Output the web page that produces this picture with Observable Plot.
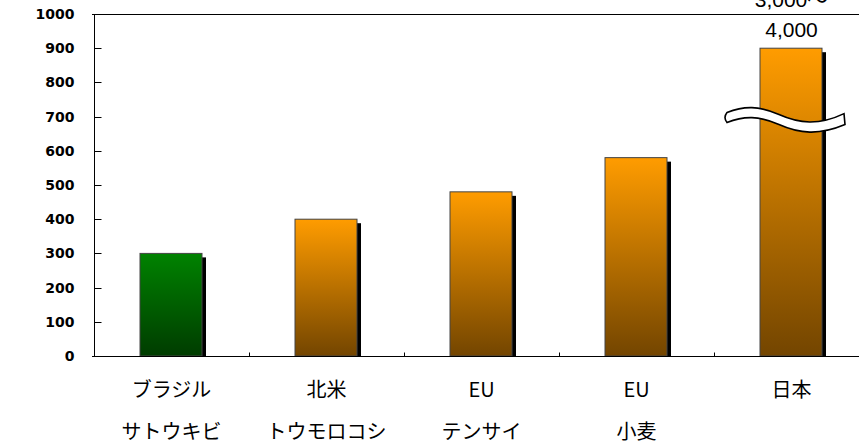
<!DOCTYPE html>
<html>
<head>
<meta charset="utf-8">
<script src="https://cdn.jsdelivr.net/npm/d3@7"></script>
<script src="https://cdn.jsdelivr.net/npm/@observablehq/plot@0.6"></script>
<style>
  html, body { margin: 0; padding: 0; background: #fff; }
  svg { display: block; }
</style>
</head>
<body>
<div id="chart"></div>
<script>
// ---- data ----
const labelTop = ["ブラジル", "北米", "EU", "EU", "日本"];
const labelBottom = ["サトウキビ", "トウモロコシ", "テンサイ", "小麦", ""];
const values = [300, 400, 480, 580, 900];
const barKind = ["green", "orange", "orange", "orange", "orange"];
const japanLabel = ["3,000～", "4,000"];
const yTicks = [0, 100, 200, 300, 400, 500, 600, 700, 800, 900, 1000];
const breakValue = 700;

const keys = labelTop.map((t, i) => t + "/" + labelBottom[i]);
const rows = keys.map((k, i) => ({key: k, top: labelTop[i], bottom: labelBottom[i], value: values[i], kind: barKind[i]}));
const jp = rows[rows.length - 1];

const W = 859, H = 445;
const jpFont = "'Noto Sans CJK JP', 'Liberation Sans', sans-serif";
const numFont = "'Liberation Sans', 'Noto Sans CJK JP', Arial, sans-serif";
const axFont = "'DejaVu Sans', sans-serif";

const chart = Plot.plot({
  width: W,
  height: H,
  marginTop: 14,
  marginBottom: 89,
  marginLeft: 92,
  marginRight: 0,
  style: {background: "#fff", overflow: "visible"},
  x: {domain: keys, range: [92, 870], paddingInner: 0.6, paddingOuter: 0.3, axis: null},
  y: {domain: [0, 1000], axis: null},
  marks: [
    // shadows
    Plot.barY(rows, {x: "key", y: "value", fill: "#000", dx: 4, insetTop: 4}),
    // bars
    Plot.barY(rows.filter(d => d.kind === "green"), {x: "key", y: "value", fill: "url(#gradGreen)", stroke: "#444", strokeWidth: 1}),
    Plot.barY(rows.filter(d => d.kind === "orange"), {x: "key", y: "value", fill: "url(#gradOrange)", stroke: "#444", strokeWidth: 1}),
    // frame lines
    Plot.ruleY([0], {stroke: "#000", strokeWidth: 1}),
    Plot.ruleY([1000], {stroke: "#000", strokeWidth: 1}),
    // y labels
    Plot.text(yTicks, {y: d => d, text: d => String(d), frameAnchor: "left", dx: -18, textAnchor: "end",
      fontSize: 14, fontWeight: "bold", fontFamily: axFont, fill: "#000", style: "letter-spacing:1.8px"}),
    // x labels
    Plot.text(rows, {x: "key", text: "top", frameAnchor: "bottom", dy: 40, fontSize: 20, fontFamily: jpFont, fill: "#000"}),
    Plot.text(rows, {x: "key", text: "bottom", frameAnchor: "bottom", dy: 82, fontSize: 20, fontFamily: jpFont, fill: "#000"}),
    // Japan value label
    Plot.text([jp], {x: "key", y: "value", text: () => japanLabel[0], dy: -48, fontSize: 21, fontFamily: numFont, fill: "#000"}),
    Plot.text([jp], {x: "key", y: "value", text: () => japanLabel[1], dy: -18, fontSize: 21, fontFamily: numFont, fill: "#000"})
  ]
});

document.getElementById("chart").appendChild(chart);

// ---- post-processing with the plot's own scales ----
const svg = d3.select(chart);
const xs = chart.scale("x");
const ys = chart.scale("y");
const bw = xs.bandwidth;
const step = xs.step;

const defs = svg.insert("defs", ":first-child");
const gO = defs.append("linearGradient").attr("id", "gradOrange").attr("x1", 0).attr("y1", 0).attr("x2", 0).attr("y2", 1);
gO.append("stop").attr("offset", "0%").attr("stop-color", "#ff9c00");
gO.append("stop").attr("offset", "100%").attr("stop-color", "#734500");
const gG = defs.append("linearGradient").attr("id", "gradGreen").attr("x1", 0).attr("y1", 0).attr("x2", 0).attr("y2", 1);
gG.append("stop").attr("offset", "0%").attr("stop-color", "#008200");
gG.append("stop").attr("offset", "100%").attr("stop-color", "#003c00");

const deco = svg.append("g");
const x0 = Math.round(xs.apply(keys[0]) - xs.paddingOuter * step) + 0.5;
// left axis line
deco.append("line").attr("x1", x0).attr("x2", x0)
  .attr("y1", ys.apply(1000)).attr("y2", ys.apply(0)).attr("stroke", "#000");
// y ticks (inward)
for (const t of yTicks) {
  const yy = Math.round(ys.apply(t)) + 0.5;
  deco.append("line").attr("x1", x0).attr("x2", x0 + 7).attr("y1", yy).attr("y2", yy).attr("stroke", "#000");
}
// x ticks at band boundaries (upward)
const yBase = Math.round(ys.apply(0)) + 0.5;
for (let k = 1; k < keys.length; k++) {
  const bx = Math.round((xs.apply(keys[k - 1]) + bw + xs.apply(keys[k])) / 2) + 0.5;
  deco.append("line").attr("x1", bx).attr("x2", bx).attr("y1", yBase).attr("y2", yBase - 4).attr("stroke", "#000");
}
// break symbol on Japan bar
const cx = xs.apply(jp.key) + bw / 2;
const yb = ys.apply(breakValue);
const P = (dx, dy) => (cx + dx).toFixed(1) + "," + (yb + dy).toFixed(1);
const d = [
  "M", P(-64, -4),
  "C", P(-47, -11), P(-32, -11), P(-12, -2),
  "S", P(28, 9), P(53, -3),
  "L", P(54, 8),
  "C", P(28, 19), P(8, 17), P(-12, 8),
  "S", P(-47, -1), P(-64, 6),
  "Q", P(-68, 1), P(-64, -4),
  "Z"
].join(" ");
deco.append("path").attr("d", d).attr("fill", "#fff").attr("stroke", "#000").attr("stroke-width", 1.6);
</script>
</body>
</html>
